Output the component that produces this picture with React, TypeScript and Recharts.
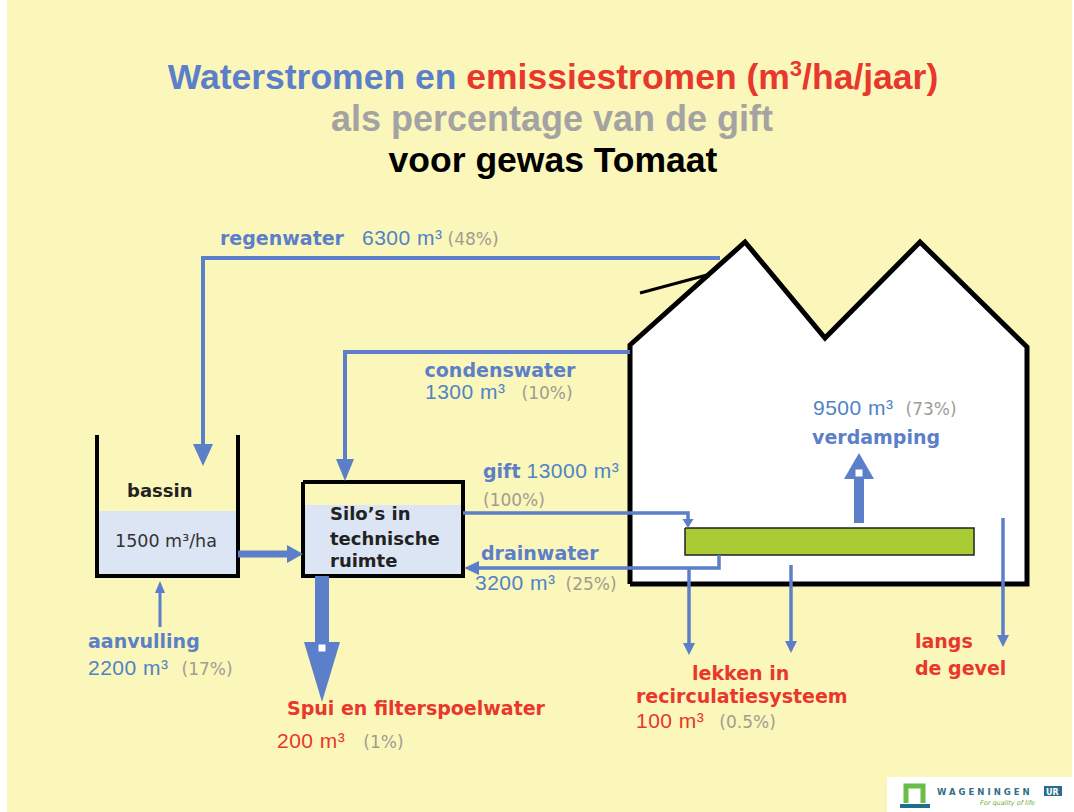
import { ComposedChart, XAxis, YAxis, Line, Area, Scatter } from 'recharts';

const W = 1074;
const H = 812;

// flow values (m3/ha/jaar and % of gift)
const flowNames = [
  'regenwater',
  'condenswater',
  'gift',
  'drainwater',
  'verdamping',
  'aanvulling',
  'Spui en filterspoelwater',
  'lekken in recirculatiesysteem',
];
const flowVolumes = [6300, 1300, 13000, 3200, 9500, 2200, 200, 100];
const flowShares = ['48', '10', '100', '25', '73', '17', '1', '0.5'];
const basinContent = 1500;
const wallLabel = ['langs', 'de gevel'];
const titleLines = ['Waterstromen en ', 'emissiestromen (m', '3', '/ha/jaar)', 'als percentage van de gift', 'voor gewas Tomaat'];
const storeLabels = ['bassin', 'Silo’s in', 'technische', 'ruimte'];

const BLUE = '#5B7FC8';
const NUM = '#4E84C6';
const RED = '#E8372C';
const GRAY = '#A09D92';
const LS = '"Liberation Sans", Arial, sans-serif';
const DV = '"DejaVu Sans", Verdana, sans-serif';

type Pt = { x: number; y: number };
const pts = (a: number[][]): Pt[] => a.map(([x, y]) => ({ x, y }));

// ---- layout (pixel space of the slide) ----
const fills = [
  { top: pts([[630, 345], [745, 242], [825, 338], [920, 242], [1027, 347]]), base: 584, fill: '#ffffff' },
  { top: pts([[97, 511], [238, 511]]), base: 576, fill: '#DCE5F4' },
  { top: pts([[303, 505], [463, 505]]), base: 576, fill: '#DCE5F4' },
  { top: pts([[685, 528], [974, 528]]), base: 555, fill: '#A9CC34' },
  { top: pts([[887, 777], [1074, 777]]), base: 812, fill: '#ffffff' },
  { top: pts([[1044, 786], [1062, 786]]), base: 796, fill: '#2B6C8A' },
];

const strokes = [
  // greenhouse
  { d: pts([[630, 584], [630, 345], [745, 242], [825, 338], [920, 242], [1027, 347], [1027, 584], [630, 584]]), w: 5, c: '#000' },
  { d: pts([[640, 293], [707, 275]]), w: 3, c: '#000' },
  // bassin and silo
  { d: pts([[97, 435], [97, 576], [238, 576], [238, 435]]), w: 4, c: '#000' },
  { d: pts([[303, 482], [463, 482], [463, 576], [303, 576], [303, 482]]), w: 4, c: '#000' },
  { d: pts([[685, 528], [974, 528], [974, 555], [685, 555], [685, 528]]), w: 1.5, c: '#222' },
  // flows
  { d: pts([[720, 258], [203, 258], [203, 446]]), w: 4, c: BLUE },
  { d: pts([[630, 352], [345, 352], [345, 460]]), w: 4, c: BLUE },
  { d: pts([[463, 513], [688, 513], [688, 521]]), w: 3.5, c: BLUE },
  { d: pts([[719, 555], [719, 568], [478, 568]]), w: 3.5, c: BLUE },
  { d: pts([[238, 554], [289, 554]]), w: 7, c: BLUE },
  { d: pts([[160, 627], [160, 592]]), w: 3, c: BLUE },
  { d: pts([[322, 576], [322, 644]]), w: 14, c: BLUE },
  { d: pts([[859, 523], [859, 477]]), w: 10, c: BLUE },
  { d: pts([[689, 568], [689, 644]]), w: 3.5, c: BLUE },
  { d: pts([[791, 565], [791, 642]]), w: 3.5, c: BLUE },
  { d: pts([[1003, 518], [1003, 636]]), w: 3.5, c: BLUE },
  // logo
  { d: pts([[906, 803], [906, 786], [923, 786], [923, 803]]), w: 5, c: '#6BBE45' },
  { d: pts([[900, 806], [930, 806]]), w: 4, c: '#1F6E8C' },
];

const heads = [
  { x: 203, y: 466, dir: 'down', len: 22, wid: 20 },
  { x: 345, y: 481, dir: 'down', len: 22, wid: 18 },
  { x: 688, y: 528, dir: 'down', len: 9, wid: 11 },
  { x: 464, y: 568, dir: 'left', len: 15, wid: 14 },
  { x: 303, y: 554, dir: 'right', len: 16, wid: 18 },
  { x: 160, y: 581, dir: 'up', len: 12, wid: 10 },
  { x: 322, y: 702, dir: 'down', len: 60, wid: 36, notch: true },
  { x: 859, y: 453, dir: 'up', len: 26, wid: 30, notch: true },
  { x: 689, y: 655, dir: 'down', len: 12, wid: 12 },
  { x: 791, y: 653, dir: 'down', len: 12, wid: 12 },
  { x: 1003, y: 647, dir: 'down', len: 12, wid: 12 },
];

type Part = { t: string; fill: string; size: number; bold?: boolean; font?: string; dx?: number; dy?: number; ls?: number; italic?: boolean };
const name = (t: string, fill = BLUE): Part => ({ t, fill, size: 19, bold: true, font: DV });
const vol = (i: number, fill = NUM): Part => ({ t: `${flowVolumes[i]} m³`, fill, size: 21, font: LS, ls: 0.5 });
const share = (i: number, dx = 8): Part => ({ t: `(${flowShares[i]}%)`, fill: GRAY, size: 17, font: DV, dx });
const title = (t: string, fill: string, extra: Partial<Part> = {}): Part => ({ t, fill, size: 35.5, bold: true, font: LS, ...extra });

const lekken = flowNames[7].split(' ');

const labels: { x: number; y: number; anchor?: string; parts: Part[] }[] = [
  { x: 553, y: 89, anchor: 'middle', parts: [title(titleLines[0], BLUE), title(titleLines[1], RED), title(titleLines[2], RED, { size: 22, dy: -13 }), title(titleLines[3], RED, { dy: 13 })] },
  { x: 552, y: 131, anchor: 'middle', parts: [title(titleLines[4], '#A3A3A3', { size: 36 })] },
  { x: 553, y: 172, anchor: 'middle', parts: [title(titleLines[5], '#000')] },

  { x: 220, y: 245, parts: [name(flowNames[0])] },
  { x: 362, y: 245, parts: [vol(0), share(0, 5)] },
  { x: 500, y: 377, anchor: 'middle', parts: [name(flowNames[1])] },
  { x: 425, y: 399, parts: [vol(1), share(1, 16)] },
  { x: 483, y: 478, parts: [name(flowNames[2]), { ...vol(2), dx: 6 }] },
  { x: 483, y: 506, parts: [share(2, 0)] },
  { x: 481, y: 560, parts: [name(flowNames[3])] },
  { x: 475, y: 590, parts: [vol(3), share(3, 10)] },
  { x: 813, y: 415, parts: [vol(4), share(4, 12)] },
  { x: 812, y: 444, parts: [name(flowNames[4])] },
  { x: 88, y: 648, parts: [name(flowNames[5])] },
  { x: 88, y: 675, parts: [vol(5), share(5, 13)] },
  { x: 287, y: 715, parts: [name(flowNames[6], RED)] },
  { x: 277, y: 748, parts: [vol(6, RED), share(6, 18)] },
  { x: 692, y: 680, parts: [name(`${lekken[0]} ${lekken[1]}`, RED)] },
  { x: 636, y: 703, parts: [name(lekken[2], RED)] },
  { x: 636, y: 728, parts: [vol(7, RED), share(7, 15)] },
  { x: 915, y: 648, parts: [name(wallLabel[0], RED)] },
  { x: 915, y: 675, parts: [name(wallLabel[1], RED)] },

  { x: 127, y: 497, parts: [{ t: storeLabels[0], fill: '#222', size: 18, bold: true, font: DV }] },
  { x: 115, y: 547, parts: [{ t: `${basinContent} m³/ha`, fill: '#333', size: 17.5, font: DV }] },
  { x: 330, y: 520, parts: [{ t: storeLabels[1], fill: '#222', size: 18, bold: true, font: DV }] },
  { x: 330, y: 545, parts: [{ t: storeLabels[2], fill: '#222', size: 18, bold: true, font: DV }] },
  { x: 330, y: 567, parts: [{ t: storeLabels[3], fill: '#222', size: 18, bold: true, font: DV }] },

  { x: 937, y: 795, parts: [{ t: 'WAGENINGEN', fill: '#2E6E86', size: 8.5, bold: true, font: DV, ls: 3 }] },
  { x: 1046, y: 794.5, parts: [{ t: 'UR', fill: '#fff', size: 8, bold: true, font: DV }] },
  { x: 980, y: 805, parts: [{ t: 'For quality of life', fill: '#6DAE3E', size: 6.5, font: DV, italic: true }] },
];

function TextMark(props: any) {
  const { cx, cy, payload } = props;
  return (
    <text x={cx} y={cy} textAnchor={payload.anchor ?? 'start'} style={{ whiteSpace: 'pre' }}>
      {payload.parts.map((p: Part, i: number) => (
        <tspan
          key={i}
          dx={p.dx}
          dy={p.dy}
          fill={p.fill}
          fontSize={p.size}
          fontWeight={p.bold ? 'bold' : 'normal'}
          fontFamily={p.font}
          fontStyle={p.italic ? 'italic' : 'normal'}
          letterSpacing={p.ls}
        >
          {p.t}
        </tspan>
      ))}
    </text>
  );
}

function HeadMark(props: any) {
  const { cx, cy, payload: h } = props;
  const ux = h.dir === 'right' ? 1 : h.dir === 'left' ? -1 : 0;
  const uy = h.dir === 'down' ? 1 : h.dir === 'up' ? -1 : 0;
  const bx = cx - ux * h.len;
  const by = cy - uy * h.len;
  const px = -uy * (h.wid / 2);
  const py = ux * (h.wid / 2);
  const p = `${cx},${cy} ${bx + px},${by + py} ${bx - px},${by - py}`;
  return (
    <g>
      <polygon points={p} fill={BLUE} />
      {h.notch && <rect x={bx + ux * 6 - 3.5} y={by + uy * 6 - 3.5} width={7} height={7} fill="#fff" />}
    </g>
  );
}

export default function App() {
  return (
    <div style={{ position: 'absolute', left: 0, top: 0, width: W, height: H, background: '#fff' }}>
      <div style={{ position: 'absolute', left: 7, top: 0, width: 1065, height: H, background: '#FBF6B9' }} />
      <div style={{ position: 'absolute', left: 0, top: 0 }}>
        <ComposedChart width={W} height={H} margin={{ top: 0, right: 0, bottom: 0, left: 0 }}>
          <XAxis type="number" dataKey="x" domain={[0, W]} hide allowDataOverflow />
          <YAxis type="number" domain={[0, H]} reversed hide allowDataOverflow />
          {fills.map((f, i) => (
            <Area
              key={`f${i}`}
              data={f.top}
              dataKey="y"
              type="linear"
              baseValue={f.base}
              fill={f.fill}
              fillOpacity={1}
              stroke="none"
              dot={false}
              activeDot={false}
              legendType="none"
              isAnimationActive={false}
            />
          ))}
          {strokes.map((s, i) => (
            <Line
              key={`s${i}`}
              data={s.d}
              dataKey="y"
              type="linear"
              stroke={s.c}
              strokeWidth={s.w}
              dot={false}
              activeDot={false}
              legendType="none"
              isAnimationActive={false}
            />
          ))}
          <Scatter data={heads} dataKey="y" shape={HeadMark} legendType="none" isAnimationActive={false} />
          <Scatter data={labels} dataKey="y" shape={TextMark} legendType="none" isAnimationActive={false} />
        </ComposedChart>
      </div>
    </div>
  );
}
